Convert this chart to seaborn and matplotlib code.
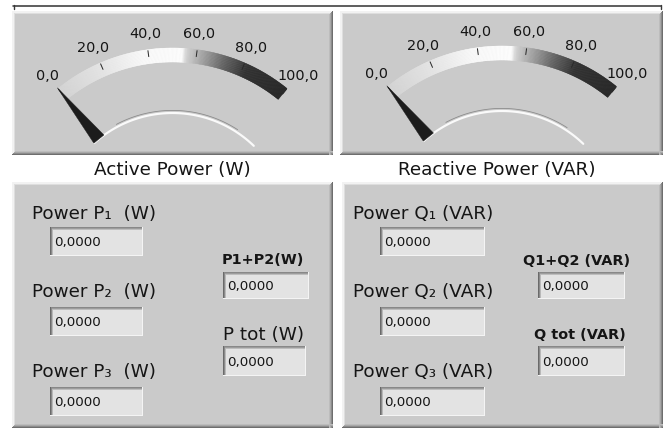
import numpy as np
import matplotlib
matplotlib.use("Agg")
import matplotlib.pyplot as plt
import seaborn as sns
from matplotlib.patches import Rectangle, Polygon
from matplotlib.collections import PolyCollection
from matplotlib.colors import LinearSegmentedColormap

# ---------------- data ----------------
gauge_titles = ["Active Power (W)", "Reactive Power (VAR)"]
gauge_values = [0.0, 0.0]
gauge_ticks = [0, 20, 40, 60, 80, 100]
gauge_tick_labels = ["0,0", "20,0", "40,0", "60,0", "80,0", "100,0"]

p_labels = ["Power P\u2081  (W)", "Power P\u2082  (W)", "Power P\u2083  (W)"]
p_values = [0.0, 0.0, 0.0]
p_sum_labels = ["P1+P2(W)", "P tot (W)"]
p_sum_values = [0.0, 0.0]

q_labels = ["Power Q\u2081 (VAR)", "Power Q\u2082 (VAR)", "Power Q\u2083 (VAR)"]
q_values = [0.0, 0.0, 0.0]
q_sum_labels = ["Q1+Q2 (VAR)", "Q tot (VAR)"]
q_sum_values = [0.0, 0.0]

# ---------------- setup ----------------
sns.set_theme(style="white")
plt.rcParams["font.family"] = ["DejaVu Sans"]

W, H = 667, 439
fig = plt.figure(figsize=(W / 100, H / 100), dpi=100)
ax = fig.add_axes([0, 0, 1, 1])
ax.set_xlim(0, W)
ax.set_ylim(H, 0)
ax.axis("off")
fig.patch.set_facecolor("white")

PX = 0.72  # points per pixel
PANEL = "#cacaca"
TXT = "#151515"


def fmt(v):
    return f"{v:.4f}".replace(".", ",")


def rect(x, y, w, h, c, z=1):
    ax.add_patch(Rectangle((x, y), w, h, facecolor=c, edgecolor="none", zorder=z))


def raised_panel(x0, y0, x1, y1):
    rect(x0, y0, x1 - x0, y1 - y0, PANEL, 1)
    # light top/left
    rect(x0, y0, x1 - x0, 2, "#f2f2f2", 2)
    rect(x0, y0, 2, y1 - y0, "#f2f2f2", 2)
    rect(x0 + 2, y0 + 2, x1 - x0 - 4, 1, "#dedede", 2)
    rect(x0 + 2, y0 + 2, 1, y1 - y0 - 4, "#dedede", 2)
    # dark bottom/right gradient
    for i, c in enumerate(["#6e6e6e", "#8c8c8c", "#a8a8a8", "#bcbcbc"]):
        rect(x1 - 1 - i, y0 + i, 1, y1 - y0 - i, c, 3)
        rect(x0 + i, y1 - 1 - i, x1 - x0 - i, 1, c, 3)


def sunken_box(x0, y0, x1, y1, value):
    rect(x0, y0, x1 - x0, y1 - y0, "#e3e3e3", 4)
    rect(x0, y0, x1 - x0, 1, "#888888", 5)
    rect(x0, y0 + 1, x1 - x0, 1, "#9c9c9c", 5)
    rect(x0, y0 + 2, x1 - x0, 1, "#bdbdbd", 5)
    rect(x0, y0, 1, y1 - y0, "#6a6a6a", 5)
    rect(x0 + 1, y0, 1, y1 - y0, "#8a8a8a", 5)
    rect(x0 + 2, y0 + 2, 1, y1 - y0 - 2, "#b8b8b8", 5)
    rect(x0, y1 - 1, x1 - x0, 1, "#f4f4f4", 5)
    rect(x1 - 1, y0, 1, y1 - y0, "#f4f4f4", 5)
    ax.text(x0 + 4, (y0 + y1) / 2 + 0.5, fmt(value), fontsize=9.6, color=TXT,
            ha="left", va="center", zorder=6)


band_cmap = LinearSegmentedColormap.from_list(
    "band",
    [(0.0, "#d4d4d4"), (0.2, "#e6e6e6"), (0.38, "#fbfbfb"), (0.54, "#ffffff"),
     (0.56, "#d2d2d2"), (0.62, "#a8a8a8"), (0.72, "#626262"), (0.82, "#2e2e2e"),
     (1.0, "#232323")])

A0, A1 = 129.0, 51.0
R_OUT, R_IN = 182.0, 168.0


def ang(v):
    return A0 + (A1 - A0) * v / 100.0


def pol(cx, cy, r, deg):
    t = np.radians(deg)
    return cx + r * np.cos(t), cy - r * np.sin(t)


def gauge(cx, cy, value):
    vs = np.linspace(0, 100, 301)
    polys, cols = [], []
    for a, b in zip(vs[:-1], vs[1:]):
        p1 = pol(cx, cy, R_OUT, ang(a))
        p2 = pol(cx, cy, R_OUT, ang(b))
        p3 = pol(cx, cy, R_IN, ang(b))
        p4 = pol(cx, cy, R_IN, ang(a))
        polys.append([p1, p2, p3, p4])
        cols.append(band_cmap((a + b) / 200.0))
    pc = PolyCollection(polys, facecolors=cols, edgecolors=cols, linewidths=0.3, zorder=4)
    ax.add_collection(pc)
    # ticks and labels
    for t, lab in zip(gauge_ticks, gauge_tick_labels):
        x0, y0 = pol(cx, cy, 175, ang(t))
        x1, y1 = pol(cx, cy, 181, ang(t))
        ax.plot([x0, x1], [y0, y1], color="#2a2a2a", lw=1.0 * PX, zorder=6)
        lx, ly = pol(cx, cy, 199, ang(t))
        ax.text(lx, ly, lab, fontsize=10.4, color=TXT, ha="center", va="center", zorder=6)
    # inner embossed arc
    th = np.linspace(132, 46, 120)
    xs, ys = pol(cx, cy, 117.0, th)
    sns.lineplot(x=xs, y=ys, sort=False, estimator=None, color="#fafafa",
                 lw=2.2 * PX, ax=ax, zorder=5)
    th2 = np.linspace(118, 57, 80)
    xs2, ys2 = pol(cx, cy, 119.6, th2)
    sns.lineplot(x=xs2, y=ys2, sort=False, estimator=None, color="#8a8a8a",
                 lw=0.8 * PX, ax=ax, zorder=5)
    # needle
    a = ang(value)
    tip = pol(cx, cy, 183, a)
    bx, by = pol(cx, cy, 117, a)
    nx, ny = np.sin(np.radians(a)), np.cos(np.radians(a))
    base1 = (bx + 6.5 * nx, by + 6.5 * ny)
    base2 = (bx - 6.5 * nx, by - 6.5 * ny)
    ax.add_patch(Polygon([tip, base1, base2], closed=True, facecolor="#1c1c1c",
                         edgecolor="#1c1c1c", lw=0.3, zorder=7))


# ---------------- top line ----------------
ax.plot([13, 661], [6.5, 6.5], color="#3a3a3a", lw=1.6 * PX, zorder=2)
ax.plot([13.5, 13.5], [5.5, 9.5], color="#3a3a3a", lw=1.4 * PX, zorder=2)
ax.plot([660.5, 660.5], [5.5, 10], color="#3a3a3a", lw=1.4 * PX, zorder=2)

# ---------------- gauge panels ----------------
raised_panel(12, 12, 333, 156)
raised_panel(340, 12, 663, 156)
gauge(172.5, 231, gauge_values[0])
gauge(502, 229, gauge_values[1])
ax.text(172, 170, gauge_titles[0], fontsize=13.2, color=TXT, ha="center", va="center")
ax.text(497, 170, gauge_titles[1], fontsize=13.2, color=TXT, ha="center", va="center")

# ---------------- numeric panels ----------------
raised_panel(12, 183, 333, 429)
raised_panel(342, 183, 663, 429)

label_y = [214, 292, 372]
box_y = [(228, 257), (308, 337), (388, 417)]

for lab, val, ly, (b0, b1) in zip(p_labels, p_values, label_y, box_y):
    ax.text(32, ly, lab, fontsize=13.2, color=TXT, ha="left", va="center")
    sunken_box(50, b0, 143, b1, val)

ax.text(222, 260, p_sum_labels[0], fontsize=10.4, fontweight="bold", color=TXT,
        ha="left", va="center")
sunken_box(223, 273, 309, 300, p_sum_values[0])
ax.text(223, 335, p_sum_labels[1], fontsize=13.2, color=TXT, ha="left", va="center")
sunken_box(223, 347, 306, 377, p_sum_values[1])

for lab, val, ly, (b0, b1) in zip(q_labels, q_values, label_y, box_y):
    ax.text(353, ly, lab, fontsize=13.2, color=TXT, ha="left", va="center")
    sunken_box(380, b0, 485, b1, val)

ax.text(577, 261, q_sum_labels[0], fontsize=10.4, fontweight="bold", color=TXT,
        ha="center", va="center")
sunken_box(538, 273, 625, 300, q_sum_values[0])
ax.text(580, 335, q_sum_labels[1], fontsize=10.4, fontweight="bold", color=TXT,
        ha="center", va="center")
sunken_box(538, 347, 625, 377, q_sum_values[1])

fig.savefig("out.png", dpi=100, facecolor="white")
